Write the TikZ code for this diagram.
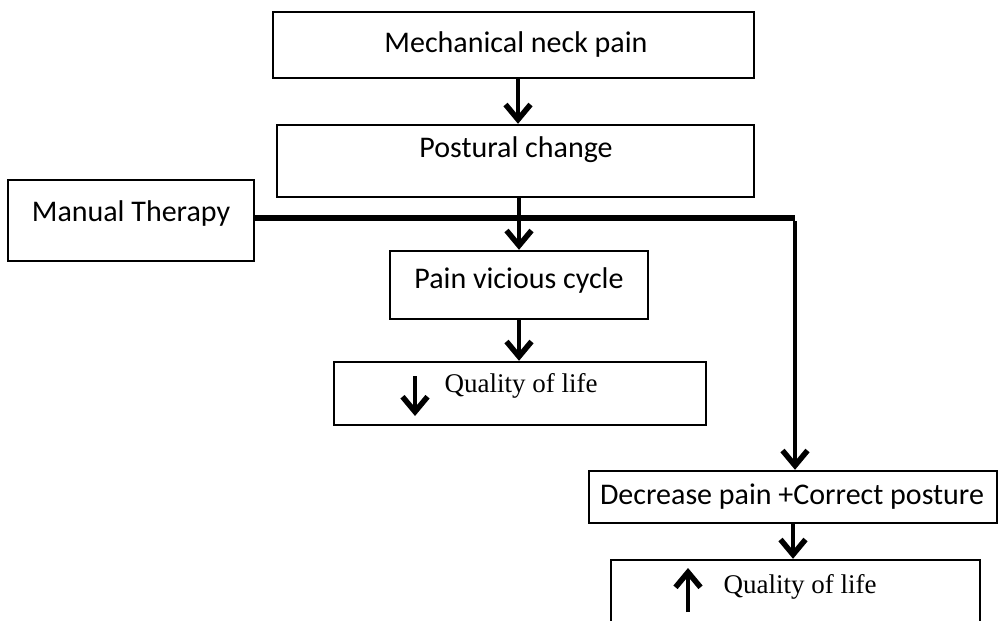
\documentclass[tikz,border=0pt]{standalone}
\usepackage{fontspec}
\setmainfont{Carlito}
\newfontfamily\qfont{Liberation Serif}
\usetikzlibrary{arrows.meta}
\begin{document}
\begin{tikzpicture}[x=1pt,y=-1pt,
  box/.style={draw, line width=2.4pt, rectangle, inner sep=0pt},
  lbl/.style={inner sep=0pt, font=\fontsize{30}{36}\selectfont},
  qlbl/.style={inner sep=0pt, font=\qfont\fontsize{27}{32}\selectfont},
  arr/.style={line width=4.5pt, -{Straight Barb[length=15pt,width=25pt,line width=5.5pt]}},
  thick line/.style={line width=5.5pt}]
\useasboundingbox (0,0) rectangle (999,621);
% boxes
\node[box, minimum width=481pt, minimum height=66pt] (b1) at (513.5,45) {};
\node[box, minimum width=477pt, minimum height=72pt] (b2) at (515.5,161) {};
\node[box, minimum width=246pt, minimum height=81pt] (mt) at (131,220.5) {};
\node[box, minimum width=258pt, minimum height=68pt] (pain) at (519,285) {};
\node[box, minimum width=372pt, minimum height=63pt] (q1) at (520,393.5) {};
\node[box, minimum width=408pt, minimum height=52pt] (dec) at (793,497) {};
\node[box, minimum width=369pt, minimum height=90pt] (q2) at (795.5,605) {};
% texts
\node[lbl] (t1) at (516,45) {Mechanical neck pain};
\node[lbl] (t2) at (516,150) {Postural change};
\node[lbl] (tmt) at (131,213) {Manual Therapy};
\node[lbl] (tpain) at (519,280) {Pain vicious cycle};
\node[qlbl] (tq1) at (521,386) {Quality of life};
\node[lbl] (tdec) at (792,497) {Decrease pain +Correct posture};
\node[qlbl] (tq2) at (800,587) {Quality of life};
% small arrows inside quality boxes
\coordinate (d1) at (415,376);
\coordinate (d2) at (415,416);
\coordinate (u1) at (688,612);
\coordinate (u2) at (688,568);
\draw[arr] (d1) -- (d2);
\draw[arr] (u1) -- (u2);
% connectors
\coordinate (j) at (795,218);
\draw[arr] ([xshift=4.5pt]b1.south) -- ([xshift=4.5pt]b1.south |- b2.north);
\draw[arr] (pain.north |- b2.south) -- (pain.north);
\draw[thick line] (mt.east |- j) -- (j);
\draw[arr] ([yshift=-2.75pt]j) -- (j |- dec.north);
\draw[arr] (pain.south) -- (pain.south |- q1.north);
\draw[arr] (dec.south) -- (dec.south |- q2.north);
\end{tikzpicture}
\end{document}
